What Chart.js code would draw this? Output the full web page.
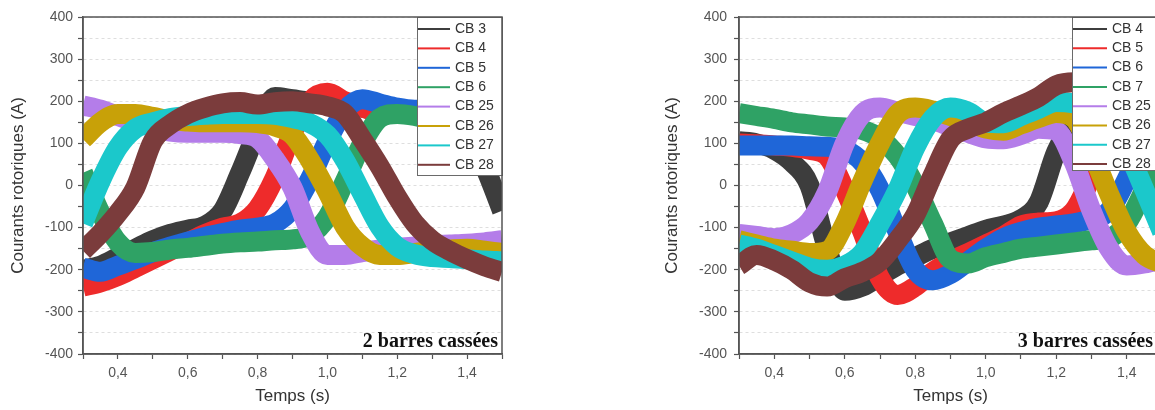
<!DOCTYPE html>
<html>
<head>
<meta charset="utf-8">
<script src="https://cdn.jsdelivr.net/npm/chart.js@4/dist/chart.umd.min.js"></script>
<style>
  html, body { margin: 0; padding: 0; background: #fff; overflow: hidden; }
  body { width: 1155px; height: 410px; position: relative; }
  .panneau { position: absolute; top: 0; }
</style>
</head>
<body>
<div class="panneau" style="left:0px"><canvas id="graph2b" width="520" height="410"></canvas></div>
<div class="panneau" style="left:640px"><canvas id="graph3b" width="532" height="410"></canvas></div>
<script>
// temps (s), pas de 0,05 s
var temps = [0.30, 0.35, 0.40, 0.45, 0.50, 0.55, 0.60, 0.65, 0.70, 0.75, 0.80, 0.85, 0.90,
             0.95, 1.00, 1.05, 1.10, 1.15, 1.20, 1.25, 1.30, 1.35, 1.40, 1.45, 1.50];

// courants rotoriques (A) - 2 barres cassées
var noms2b = ['CB 3', 'CB 4', 'CB 5', 'CB 6', 'CB 25', 'CB 26', 'CB 27', 'CB 28'];
var cb3_2b  = [-200, -190, -170, -150, -130, -115, -105, -95, -60, 30, 130, 210, 205, 200, 200, 195, 185, 175, 170, 170, 170, 160, 120, 45, -60];
var cb4_2b  = [-240, -230, -215, -195, -175, -155, -135, -115, -100, -90, -55, 20, 125, 200, 220, 200, 185, 175, 170, 170, 170, 175, 180, 165, 100];
var cb5_2b  = [-195, -205, -190, -175, -158, -145, -133, -122, -113, -105, -100, -90, -55, 15, 105, 178, 205, 195, 185, 180, 180, 182, 185, 185, 185];
var cb6_2b  = [30, -65, -135, -160, -158, -152, -148, -143, -138, -135, -133, -130, -128, -118, -75, 10, 100, 160, 170, 165, 155, 150, 145, 135, 125];
var cb25_2b = [190, 180, 165, 150, 138, 128, 125, 125, 125, 122, 112, 62, -5, -110, -165, -165, -158, -152, -148, -145, -142, -140, -138, -135, -130];
var cb26_2b = [110, 150, 170, 170, 163, 155, 152, 150, 150, 150, 148, 140, 120, 60, -15, -98, -145, -165, -165, -160, -155, -152, -150, -155, -160];
var cb27_2b = [-90, 10, 90, 135, 150, 160, 165, 168, 170, 170, 170, 168, 160, 148, 120, 60, -20, -98, -145, -163, -170, -172, -175, -178, -180];
var cb28_2b = [-155, -114, -66, -5, 105, 145, 170, 185, 195, 198, 192, 198, 200, 195, 188, 170, 110, 45, -28, -90, -130, -155, -175, -192, -205];

// courants rotoriques (A) - 3 barres cassées
var noms3b = ['CB 4', 'CB 5', 'CB 6', 'CB 7', 'CB 25', 'CB 26', 'CB 27', 'CB 28'];
var cb4_3b  = [105, 100, 85, 55, 0, -150, -250, -240, -215, -190, -170, -150, -135, -120, -105, -95, -80, -40, 80, 150, 175, 185, 185, 185, 180];
var cb5_3b  = [100, 98, 95, 92, 85, 70, -10, -110, -220, -260, -240, -205, -180, -160, -140, -120, -95, -88, -85, -60, 20, 110, 160, 180, 185];
var cb6_3b  = [95, 95, 95, 95, 93, 92, 85, 55, -10, -110, -200, -225, -210, -180, -150, -125, -110, -100, -95, -90, -80, -60, 15, 110, 170];
var cb7_3b  = [172, 165, 158, 150, 145, 140, 138, 132, 112, 70, 0, -90, -175, -185, -170, -160, -150, -145, -140, -135, -130, -125, -90, -10, 80];
var cb25_3b = [-115, -120, -125, -115, -85, -15, 100, 170, 185, 175, 165, 155, 140, 125, 112, 110, 120, 135, 130, 55, -60, -150, -190, -185, -175];
var cb26_3b = [-130, -140, -150, -155, -160, -155, -90, 10, 100, 170, 185, 178, 165, 150, 135, 130, 145, 160, 172, 160, 80, -20, -110, -165, -185];
var cb27_3b = [-140, -150, -165, -180, -195, -200, -190, -160, -90, -10, 90, 160, 185, 175, 150, 148, 165, 182, 198, 195, 185, 160, 85, -10, -110];
var cb28_3b = [-190, -165, -178, -200, -230, -240, -220, -205, -180, -130, -70, 25, 110, 135, 150, 172, 190, 210, 238, 245, 220, 195, 170, 140, 100];

// graduations
var yTicks = [-400, -300, -200, -100, 0, 100, 200, 300, 400];
var xTicks = [0.4, 0.6, 0.8, 1.0, 1.2, 1.4];

var couleurs = ['#3d3d3d', '#ee2b2b', '#1f66d8', '#2fa265', '#b47de9', '#c8a108', '#1bc8cb', '#7b3c3c'];
var police = '"Liberation Sans", Arial, sans-serif';

// légende encadrée, libellé du cas et cadre du graphe
var cadre = {
  id: 'cadre',
  afterDatasetsDraw: function (chart, args, opts) {
    var ctx = chart.ctx, a = chart.chartArea;
    var gauche = a.right - opts.largeur;
    ctx.save();
    ctx.fillStyle = '#fff';
    ctx.fillRect(gauche, a.top, opts.largeur, opts.hauteur);
    ctx.strokeStyle = '#6a6a6a';
    ctx.lineWidth = 1;
    ctx.strokeRect(gauche + 0.5, a.top + 0.5, opts.largeur, opts.hauteur);
    ctx.font = '14px ' + police;
    ctx.textBaseline = 'middle';
    chart.data.datasets.forEach(function (ds, i) {
      var y = a.top + 12 + i * opts.pas;
      ctx.strokeStyle = ds.borderColor;
      ctx.lineWidth = 2;
      ctx.beginPath();
      ctx.moveTo(gauche + 1, y);
      ctx.lineTo(gauche + opts.trait, y);
      ctx.stroke();
      ctx.fillStyle = '#333';
      ctx.fillText(ds.label, gauche + opts.trait + 5, y);
    });
    ctx.font = 'bold 20px "Liberation Serif", "Times New Roman", serif';
    ctx.textAlign = 'right';
    ctx.textBaseline = 'alphabetic';
    ctx.fillStyle = '#111';
    ctx.fillText(opts.titre, a.right - opts.marge, a.bottom - 7);
    ctx.strokeStyle = '#555';
    ctx.lineWidth = 1.5;
    ctx.strokeRect(a.left, a.top, a.right - a.left, a.bottom - a.top);
    ctx.restore();
  }
};

function tracer(id, noms, series, titre, opt) {
  var ctx = document.getElementById(id).getContext('2d');

  var datasets = series.map(function (vals, i) {
    return {
      label: noms[i],
      data: temps.map(function (t, k) { return { x: t, y: vals[k] }; }),
      borderColor: couleurs[i],
      borderWidth: 20,
      pointRadius: 0,
      cubicInterpolationMode: 'monotone',
      borderJoinStyle: 'round',
      clip: 0,
      order: series.length - i
    };
  });

  var options = {
    responsive: false,
    animation: false,
    events: [],
    layout: { padding: { top: 17, right: opt.droite, left: 0, bottom: 0 } },
    plugins: {
      legend: { display: false },
      tooltip: { enabled: false },
      cadre: { titre: titre, largeur: opt.largeur, hauteur: opt.hauteur, pas: opt.pas, trait: opt.trait, marge: opt.marge }
    },
    scales: {
      x: {
        type: 'linear',
        min: 0.3,
        max: 1.5,
        afterFit: function (s) { s.height = 56; },
        ticks: {
          stepSize: 0.1,
          padding: 6,
          maxRotation: 0,
          autoSkip: false,
          color: '#555',
          font: { size: 14, family: police },
          callback: function (v) {
            var r = Math.round(v * 10) / 10;
            return xTicks.indexOf(r) >= 0 ? r.toFixed(1).replace('.', ',') : '';
          }
        },
        grid: { drawOnChartArea: false, tickLength: 5, tickColor: '#555', tickWidth: 1.2 },
        border: { color: '#555', width: 1.5 },
        title: { display: true, text: 'Temps (s)', color: '#333', font: { size: 17, family: police }, padding: { top: 0, bottom: 3 } }
      },
      y: {
        min: -400,
        max: 400,
        afterFit: function (s) { s.width = opt.axeY; },
        ticks: {
          stepSize: 50,
          padding: opt.padY,
          autoSkip: false,
          color: '#555',
          font: { size: 14, family: police },
          callback: function (v) { return yTicks.indexOf(v) >= 0 ? String(v) : ''; }
        },
        grid: { color: '#dedede', lineWidth: 1, tickLength: 5, tickColor: '#555', tickWidth: 1.2 },
        border: { color: '#555', width: 1.5, dash: [3, 3] },
        title: { display: true, text: 'Courants rotoriques (A)', color: '#333', font: { size: 17, family: police }, padding: { top: opt.titreY, bottom: 0 } }
      }
    }
  };

  return new Chart(ctx, { type: 'line', data: { datasets: datasets }, options: options, plugins: [cadre] });
}

tracer('graph2b', noms2b,
  [cb3_2b, cb4_2b, cb5_2b, cb6_2b, cb25_2b, cb26_2b, cb27_2b, cb28_2b],
  '2 barres cassées',
  { droite: 18, axeY: 83, padY: 5, titreY: 8, largeur: 85, hauteur: 158, pas: 19.4, trait: 33, marge: 4 });

tracer('graph3b', noms3b,
  [cb4_3b, cb5_3b, cb6_3b, cb7_3b, cb25_3b, cb26_3b, cb27_3b, cb28_3b],
  '3 barres cassées',
  { droite: 10, axeY: 99, padY: 7, titreY: 22, largeur: 90, hauteur: 153, pas: 19.3, trait: 35, marge: 9 });
</script>
</body>
</html>
